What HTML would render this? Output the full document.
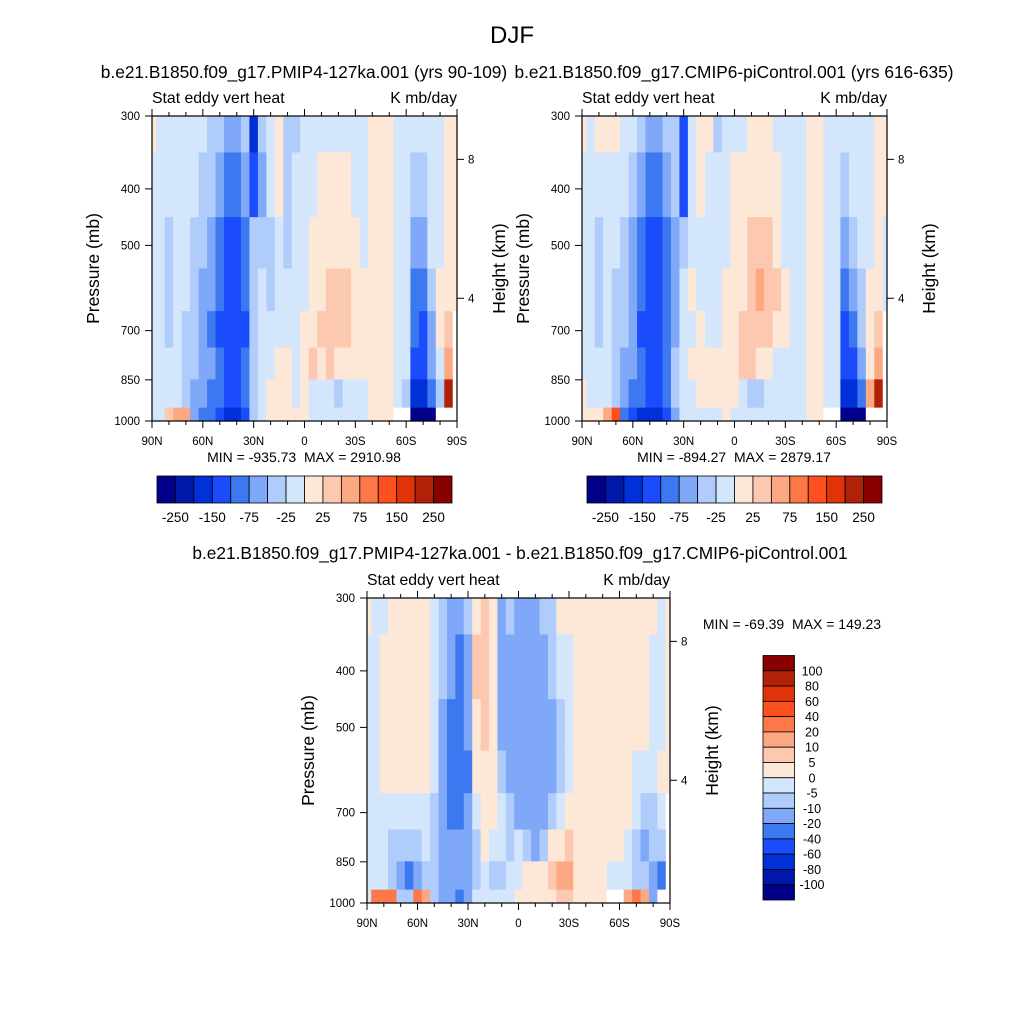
<!DOCTYPE html>
<html><head><meta charset="utf-8"><style>
html,body{margin:0;padding:0;background:#fff;}
svg{display:block;font-family:"Liberation Sans",sans-serif;}
</style></head><body>
<svg id="fig" width="1024" height="1024" viewBox="0 0 1024 1024" xmlns="http://www.w3.org/2000/svg">
<rect width="1024" height="1024" fill="#fff"/>
<text x="512" y="43" font-size="24" text-anchor="middle">DJF</text>
<text x="304" y="78" font-size="17.3" text-anchor="middle">b.e21.B1850.f09_g17.PMIP4-127ka.001 (yrs 90-109)</text>
<text x="734" y="78" font-size="17.3" text-anchor="middle">b.e21.B1850.f09_g17.CMIP6-piControl.001 (yrs 616-635)</text>
<text x="520" y="559" font-size="17.3" text-anchor="middle">b.e21.B1850.f09_g17.PMIP4-127ka.001 - b.e21.B1850.f09_g17.CMIP6-piControl.001</text>
<g id="layer"></g>
</svg>
<script>
const lats=[90,85,80,75,70,65,60,55,50,45,40,35,30,25,20,15,10,5,0,-5,-10,-15,-20,-25,-30,-35,-40,-45,-50,-55,-60,-65,-70,-75,-80,-85,-90];
const pressures=[300,400,500,600,700,800,900,1000];
const colors=["#00008a","#0018a8","#0030d8","#1a4cfc","#3c78f0","#80a8f8","#b0ccfb","#d4e6fc","#fde8d8","#fcc8b0","#fca882","#fc7848","#fc5020","#e03408","#b02208","#880000"];
const topLevels=[-250,-200,-150,-100,-75,-50,-25,0,25,50,75,100,150,200,250];
const topLabels=["-250","-150","-75","-25","25","75","150","250"];
const diffLevels=[-100,-80,-60,-40,-20,-10,-5,0,5,10,20,40,60,80,100];
const pTicks=[300,400,500,700,850,1000];
const latTickLabels=["90N","60N","30N","0","30S","60S","90S"];
const heightTicks=[8,4];
const heightTickPressure=[356,616];
const N=null;
const pmipValues=[
[10,-10,-10,-10,-10,-10,-10,-10],[-10,-10,-10,-10,-10,-10,-10,-10],[-10,-10,-40,-40,-40,-10,-10,30],[-10,-10,-10,-10,-10,-10,-10,60],
[-10,-10,-10,-10,-40,-40,-40,60],[-10,-10,-40,-40,-40,-40,-60,-60],[-10,-40,-40,-60,-60,-60,-60,-90],[-40,-40,-60,-60,-90,-60,-90,-90],
[-40,-60,-90,-90,-120,-90,-90,-120],[-60,-90,-120,-120,-120,-120,-120,-170],[-60,-90,-120,-120,-120,-120,-120,-170],[-40,-60,-90,-90,-120,-90,-90,-120],
[-170,-120,-40,-40,-40,-40,-40,-40],[-40,-60,-40,-10,-10,-10,-10,-10],[-10,-10,-40,-40,-10,-10,10,10],[10,10,-10,-10,-10,10,10,10],
[-40,-40,-40,-10,-10,10,10,10],[-40,-10,-10,-10,-10,-10,-10,10],[-10,-10,-10,-10,10,10,10,10],[-10,-10,10,10,10,30,-10,-10],
[-10,10,10,10,30,10,-10,-10],[-10,10,10,30,30,30,-10,-10],[-10,10,10,30,30,10,-40,-10],[-10,10,10,30,30,10,-10,-10],
[-10,-10,10,10,10,10,-10,-10],[-10,-10,-10,10,10,10,-10,-10],[10,10,10,10,10,10,10,10],[10,10,10,10,10,10,10,10],
[10,10,10,10,10,10,10,10],[-10,-10,-10,-10,-10,-10,-10,N],[-10,-10,-10,-10,-10,-10,-40,N],[-10,-40,-60,-90,-90,-120,-170,-300],
[-10,-40,-60,-90,-120,-120,-170,-300],[-10,-10,-10,-40,-60,-60,-90,-300],[-10,-10,-10,10,10,-10,-40,N],[10,10,10,10,30,60,200,N],
[10,10,10,10,N,N,N,N]];
const ctrlValues=[
[10,-10,-10,-10,-10,-10,10,10],[-10,-10,-10,-10,-10,-10,-10,10],[10,-10,-40,-40,-40,-10,-10,10],[10,-10,-10,-10,-10,-10,-10,60],
[10,-10,-10,-40,-40,-40,-40,100],[-10,-10,-40,-40,-40,-60,-60,-90],[-10,-40,-60,-60,-60,-60,-90,-120],[-40,-60,-90,-90,-120,-90,-90,-170],
[-60,-90,-120,-120,-120,-120,-120,-170],[-60,-90,-120,-120,-120,-120,-120,-170],[-40,-60,-90,-90,-90,-90,-90,-120],[-40,-40,-60,-60,-60,-40,-40,-60],
[-120,-120,-40,-10,-10,-10,-10,-10],[-10,-10,-10,10,-10,10,-10,-10],[10,10,-10,-10,10,10,10,-10],[10,-10,-10,-10,-10,10,10,-10],
[-40,-10,-10,-10,-10,10,10,-10],[-10,-10,-10,10,10,10,10,10],[-10,10,10,10,10,10,10,-10],[-10,10,10,10,30,30,-10,-10],
[10,10,30,30,30,30,-40,-10],[10,10,30,60,30,10,-40,-10],[10,10,30,30,30,10,-10,-10],[-10,10,10,30,10,-10,-10,-10],
[-10,-10,-10,10,10,-10,-10,-10],[-10,-10,-10,-10,-10,-10,-10,-10],[-10,-10,-10,-10,-10,-10,-10,-10],[10,10,10,10,10,10,10,10],
[10,10,10,10,10,10,10,10],[-10,-10,-10,-10,-10,-10,-10,N],[-10,-10,-10,-10,-10,-10,-10,N],[-10,-40,-60,-90,-120,-120,-170,-300],
[-10,-10,-40,-60,-90,-120,-170,-300],[-10,-10,-10,-40,-40,-60,-90,-300],[-10,-10,-10,10,10,10,60,N],[10,10,10,10,30,60,200,N],
[10,10,-10,-10,N,N,N,N]];
const diffValues=[
[2,-2,-2,-2,-2,-2,-2,-2],[-2,-2,-2,-2,-2,-2,-2,30],[-2,2,2,2,-2,-2,-2,30],[2,2,2,2,-2,-7,-7,30],
[2,2,2,2,-2,-7,-15,-7],[2,2,2,2,-2,-7,-30,-7],[2,2,2,2,-2,-7,-15,30],[2,2,2,2,-2,-2,-7,15],
[-2,-2,-2,-2,-7,-7,-7,-7],[-7,-7,-15,-15,-15,-15,-15,-15],[-15,-15,-30,-30,-30,-15,-15,-15],[-15,-30,-30,-30,-30,-15,-15,-30],
[-7,-15,-15,-30,-15,-15,-15,-15],[2,7,2,2,-2,-7,-7,-2],[7,7,7,2,2,2,-2,-2],[2,2,2,2,2,-2,-7,-2],
[-15,-15,-15,-7,-2,-2,-7,-2],[-7,-15,-15,-15,-7,-7,-2,-2],[-15,-15,-15,-15,-15,-2,-2,2],[-15,-15,-15,-15,-15,-7,2,2],
[-15,-15,-15,-15,-15,-15,2,2],[-7,-15,-15,-15,-15,-7,2,2],[-7,-7,-15,-15,-7,2,7,2],[2,-2,-7,-7,-2,2,15,7],
[2,-2,-2,-2,2,7,15,7],[2,2,2,2,2,2,2,2],[2,2,2,2,2,2,2,2],[2,2,2,2,2,2,2,2],
[2,2,2,2,2,2,2,2],[2,2,2,2,2,2,-2,N],[2,2,2,2,2,2,-2,N],[2,2,2,2,2,-2,-2,15],
[2,2,2,-2,-2,-7,-7,30],[2,2,2,-2,-7,-15,-7,15],[2,-2,-2,-2,-7,-7,-15,-15],[-2,-2,-2,2,-2,-7,-30,N],
[2,2,2,2,N,N,N,N]];

const NS="http://www.w3.org/2000/svg";
const layer=document.getElementById('layer');
function mk(tag,attrs,parent){const e=document.createElementNS(NS,tag);for(const k in attrs)e.setAttribute(k,attrs[k]);(parent||layer).appendChild(e);return e;}
function colorFor(v,levels){let i=0;while(i<levels.length&&v>=levels[i])i++;return colors[i];}

function drawPanel(x0,y0,w,h,values,levels,prefix,opts){
  const g=mk('g',{});
  
  
  const xs=lat=>x0+(90-lat)/180*w;
  const ys=p=>y0+Math.log(p/300)/Math.log(1000/300)*h;
  const edges=[300];
  for(let j=0;j<pressures.length-1;j++)edges.push(Math.sqrt(pressures[j]*pressures[j+1]));
  edges.push(1000);
  for(let i=0;i<lats.length;i++){
    const la=Math.min(90,lats[i]+2.5),lb=Math.max(-90,lats[i]-2.5);
    for(let j=0;j<pressures.length;j++){
      const v=values[i][j];
      const xa=xs(la),xb=xs(lb),ya=ys(edges[j]),yb=ys(edges[j+1]);
      const r=mk('rect',{x:xa.toFixed(2),y:ya.toFixed(2),width:(xb-xa+0.6).toFixed(2),height:(yb-ya+0.6).toFixed(2),fill:v===null?'#ffffff':colorFor(v,levels)},g);
      
      
    }
  }
  const fr=mk('rect',{x:x0,y:y0,width:w,height:h,fill:'none',stroke:'#000','stroke-width':1.2});
  
  
  for(let lat=90;lat>=-90;lat-=10){
    const x=xs(lat),major=lat%30===0;const L=major?7:4;
    mk('line',{x1:x,y1:y0+h,x2:x,y2:y0+h+L,stroke:'#000','stroke-width':1});
    mk('line',{x1:x,y1:y0,x2:x,y2:y0-L,stroke:'#000','stroke-width':1});
  }
  latTickLabels.forEach((t,k)=>{
    const tx=mk('text',{x:xs(90-30*k),y:y0+h+24,'font-size':11.5,'text-anchor':'middle'});tx.textContent=t;
    
    
  });
  pTicks.forEach(p=>{
    const y=ys(p);
    mk('line',{x1:x0,y1:y,x2:x0-7,y2:y,stroke:'#000','stroke-width':1});
    const tx=mk('text',{x:x0-12,y:y+4,'font-size':11.5,'text-anchor':'end'});tx.textContent=p;
    
    
  });
  heightTicks.forEach((hv,k)=>{
    const y=ys(heightTickPressure[k]);
    mk('line',{x1:x0+w,y1:y,x2:x0+w+7,y2:y,stroke:'#000','stroke-width':1});
    const tx=mk('text',{x:x0+w+11,y:y+4,'font-size':11.5});tx.textContent=hv;
    
    
  });
  let t=mk('text',{x:x0,y:y0-13,'font-size':15.8});t.textContent='Stat eddy vert heat';
  
  
  t=mk('text',{x:x0+w,y:y0-13,'font-size':15.8,'text-anchor':'end'});t.textContent='K mb/day';
  
  
  const cy=y0+h/2;
  t=mk('text',{x:0,y:0,'font-size':17.5,'text-anchor':'middle',transform:`translate(${x0-53},${cy}) rotate(-90)`});t.textContent='Pressure (mb)';
  
  
  t=mk('text',{x:0,y:0,'font-size':17.5,'text-anchor':'middle',transform:`translate(${x0+w+48},${cy}) rotate(-90)`});t.textContent='Height (km)';
  
  
  if(opts.minmax){
    t=mk('text',{x:opts.mmx,y:opts.mmy,'font-size':14,'text-anchor':'middle'});t.textContent=opts.minmax;
    
    
  }
}
function hBar(x0,y0,w,h,prefix){
  const bw=w/colors.length;
  colors.forEach((c,i)=>{
    const r=mk('rect',{x:x0+i*bw,y:y0,width:bw,height:h,fill:c,stroke:'#000','stroke-width':0.8});
    
    
  });
  topLabels.forEach((l,k)=>{
    const t=mk('text',{x:x0+(2*k+1)*bw,y:y0+h+19,'font-size':13.5,'text-anchor':'middle'});t.textContent=l;
    
    
  });
}
const SP='\u00a0\u00a0';
drawPanel(152,116,305,305,pmipValues,topLevels,'pmip',{minmax:'MIN = -935.73'+SP+'MAX = 2910.98',mmx:304,mmy:462});
drawPanel(582,116,305,305,ctrlValues,topLevels,'ctrl',{minmax:'MIN = -894.27'+SP+'MAX = 2879.17',mmx:734,mmy:462});
drawPanel(367,598,303,305,diffValues,diffLevels,'diff',{minmax:'MIN = -69.39'+SP+'MAX = 149.23',mmx:792,mmy:629});
hBar(157,476,295,27,'pmip');
hBar(587,476,295,27,'ctrl');
(function(){
  const x0=763,y0=655.5,w=31.5,h=244.5,bh=h/colors.length;
  colors.slice().reverse().forEach((c,i)=>{
    const r=mk('rect',{x:x0,y:y0+i*bh,width:w,height:bh,fill:c,stroke:'#000','stroke-width':0.8});
    
    
  });
  diffLevels.slice().reverse().forEach((l,k)=>{
    const t=mk('text',{x:812,y:y0+(k+1)*bh+4.5,'font-size':12.5,'text-anchor':'middle'});t.textContent=l;
    
    
  });
})();
</script>
</body></html>
